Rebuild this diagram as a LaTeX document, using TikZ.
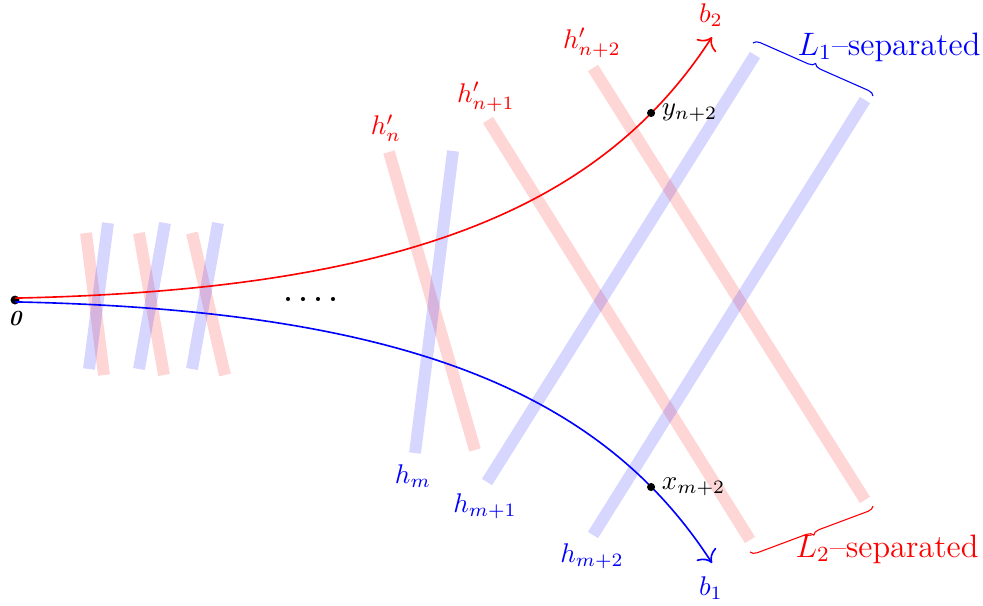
\documentclass[tikz,border=0pt]{standalone}
\usetikzlibrary{arrows.meta,decorations.pathreplacing}
\begin{document}
\begin{tikzpicture}[x=0.37pt,y=-0.37pt,
  rbar/.style={line width=4.4pt,red,opacity=0.16},
  bbar/.style={line width=4.4pt,blue,opacity=0.16},
  rcurve/.style={red,semithick,-{To[scale=1.4]}},
  bcurve/.style={blue,semithick,-{To[scale=1.4]}},
  pt/.style={circle,fill=black,inner sep=0pt,minimum size=3pt},
  rlab/.style={text=red},
  blab/.style={text=blue},
  bracedeco/.style={decorate,decoration={brace,amplitude=2.4pt}}]
\useasboundingbox (0,0) rectangle (983,606);
% left bars
\draw[rbar] (86,233) -- (104,375);
\draw[bbar] (108,223) -- (89,369);
\draw[rbar] (139,233) -- (164,375);
\draw[bbar] (165,223) -- (139,369);
\draw[rbar] (192,233) -- (225,375);
\draw[bbar] (218,223) -- (192,369);
% middle bars
\draw[rbar] (389,152) -- (475,450);
\draw[bbar] (453,151) -- (415,453);
\draw[rbar] (488,120) -- (750,540);
\draw[bbar] (487,482) -- (755,55);
\draw[rbar] (593,68) -- (865,500);
\draw[bbar] (593,535) -- (865,100);
% dots
\foreach \xx in {288,303,318,333} \fill (\xx,299) circle (0.75pt);
% origin
\node[pt,minimum size=3.3pt] (o) at (15,300) {};
\node (olab) at (15,319) {\footnotesize\bfseries\itshape 0};
\coordinate (b2) at (712,37);
\coordinate (b1) at (712,563);
\draw[rcurve] ([yshift=0.7pt]o.center) .. controls (400,290) and (600,210) .. node[pt,pos=0.84] (y) {} (b2);
\draw[bcurve] ([yshift=-0.7pt]o.center) .. controls (400,310) and (600,390) .. node[pt,pos=0.84] (x) {} (b1);
\node[anchor=west,inner sep=2pt] (ylab) at (y.east) {$y_{n+2}$};
\node[anchor=west,inner sep=2pt] (xlab) at (x.east) {$x_{m+2}$};
\node[rlab] (b2lab) at (711,15) {$b_2$};
\node[blab] (b1lab) at (711,588) {$b_1$};
% bar labels
\node[rlab] (hn) at (386,128) {$h'_n$};
\node[rlab] (hn1) at (486,97) {$h'_{n+1}$};
\node[rlab] (hn2) at (592,43) {$h'_{n+2}$};
\node[blab] (hm) at (413,476) {$h_m$};
\node[blab] (hm1) at (485,506) {$h_{m+1}$};
\node[blab] (hm2) at (592,556) {$h_{m+2}$};
% braces
\coordinate (l1a) at (753,43);
\coordinate (l1b) at (873,96);
\coordinate (l2a) at (873,506);
\coordinate (l2b) at (750,552);
\draw[blue,bracedeco] (l1a) -- (l1b);
\draw[red,bracedeco] (l2a) -- (l2b);
\node[blab] (L1) at (889,47) {\large$L_1$--separated};
\node[rlab] (L2) at (887,549) {\large$L_2$--separated};
\end{tikzpicture}
\end{document}
